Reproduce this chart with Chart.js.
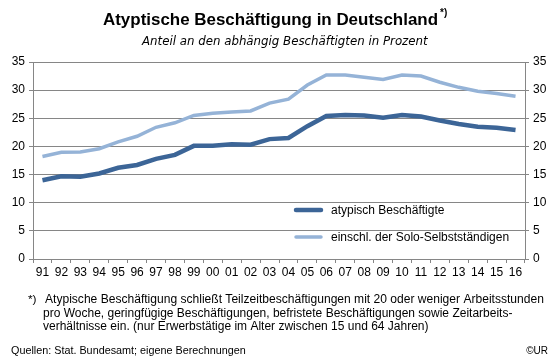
<!DOCTYPE html>
<html>
<head>
<meta charset="utf-8">
<script src="https://cdn.jsdelivr.net/npm/chart.js@4"></script>
<style>
  html, body { margin: 0; padding: 0; background: #fff; }
  #wrap { position: relative; width: 558px; height: 364px; }
</style>
</head>
<body>
<div id="wrap"><canvas id="chart" width="558" height="364"></canvas></div>
<script>
const years = ['91','92','93','94','95','96','97','98','99','00','01','02','03','04','05','06','07','08','09','10','11','12','13','14','15','16'];
const atypisch = [14.0,14.7,14.6,15.2,16.2,16.7,17.8,18.5,20.1,20.1,20.4,20.3,21.3,21.5,23.6,25.4,25.6,25.5,25.1,25.6,25.3,24.6,24.0,23.5,23.3,22.9];
const mitSolo = [18.2,18.95,19.0,19.6,20.8,21.8,23.4,24.2,25.5,25.9,26.1,26.3,27.7,28.4,30.9,32.7,32.7,32.3,31.9,32.7,32.5,31.4,30.5,29.8,29.4,28.9];
const seriesNames = ['atypisch Beschäftigte', 'einschl. der Solo-Selbstständigen'];
const yTicks = [0, 5, 10, 15, 20, 25, 30, 35];

const font = '"Liberation Sans", Arial, sans-serif';
const subFont = '"DejaVu Sans", Verdana, sans-serif';

// fit text between two x positions by scaling the font size
function fitText(ctx, text, style, family, x0, x1, y) {
  ctx.font = style + ' 100px ' + family;
  const size = 100 * (x1 - x0) / ctx.measureText(text).width;
  ctx.font = style + ' ' + size.toFixed(2) + 'px ' + family;
  ctx.textAlign = 'left';
  ctx.fillText(text, x0, y);
}

const textPlugin = {
  id: 'texts',
  afterDraw(chart) {
    const ctx = chart.ctx;
    ctx.save();
    ctx.fillStyle = '#000';
    ctx.textBaseline = 'middle';

    // title + superscript
    fitText(ctx, 'Atyptische Beschäftigung in Deutschland', 'bold', font, 103, 438, 20);
    ctx.font = 'bold 10px ' + font;
    ctx.fillText('*)', 440, 13);

    // subtitle
    fitText(ctx, 'Anteil an den abhängig Beschäftigten in Prozent', 'italic', subFont, 142, 428, 42);

    // footnote
    ctx.font = '11.8px ' + font;
    ctx.textAlign = 'left';
    ctx.fillText('*)', 28, 300);
    fitText(ctx, 'Atypische Beschäftigung schließt Teilzeitbeschäftigungen mit 20 oder weniger Arbeitsstunden', '', font, 45, 544, 300);
    ctx.font = '12px ' + font;
    ctx.fillText('pro Woche, geringfügige Beschäftigungen, befristete Beschäftigungen sowie Zeitarbeits-', 43, 313.5);
    ctx.fillText('verhältnisse ein. (nur Erwerbstätige im Alter zwischen 15 und 64 Jahren)', 43, 327);

    fitText(ctx, 'Quellen: Stat. Bundesamt; eigene Berechnungen', '', font, 11, 246, 351);
    ctx.textAlign = 'right';
    ctx.font = '10px ' + font;
    ctx.fillText('©UR', 548, 351);

    // legend inside plot
    const ds = chart.data.datasets;
    const rows = [210, 237];
    ctx.textAlign = 'left';
    ctx.font = '12px ' + font;
    ds.forEach((d, i) => {
      ctx.strokeStyle = d.borderColor;
      ctx.lineWidth = d.borderWidth;
      ctx.lineCap = 'round';
      ctx.beginPath();
      ctx.moveTo(296, rows[i]);
      ctx.lineTo(321, rows[i]);
      ctx.stroke();
      ctx.fillStyle = '#000';
      ctx.fillText(d.label, 331, rows[i] + 1);
    });
    ctx.restore();
  }
};

const yAxisBase = {
  min: 0,
  max: 35,
  afterBuildTicks(axis) { axis.ticks = yTicks.map(v => ({ value: v })); },
  border: { color: '#868686' },
  ticks: { color: '#000', font: { family: font, size: 12 }, padding: 4 }
};

new Chart(document.getElementById('chart'), {
  type: 'line',
  data: {
    labels: years,
    datasets: [
      { label: seriesNames[0], data: atypisch, borderColor: '#3C6597', borderWidth: 4.5, pointRadius: 0, tension: 0, yAxisID: 'y' },
      { label: seriesNames[1], data: mitSolo, borderColor: '#95B3D7', borderWidth: 3.5, pointRadius: 0, tension: 0, yAxisID: 'y' }
    ]
  },
  options: {
    responsive: false,
    animation: false,
    layout: { padding: { left: 0, right: 0, top: 62, bottom: 0 } },
    plugins: { legend: { display: false }, tooltip: { enabled: false } },
    scales: {
      x: {
        offset: true,
        grid: { offset: true, drawOnChartArea: false, color: '#868686', tickLength: 4 },
        border: { color: '#868686' },
        ticks: { color: '#000', font: { family: font, size: 12 }, maxRotation: 0, autoSkip: false, padding: 2 },
        afterFit(axis) { axis.height = 105; }
      },
      y: Object.assign({}, yAxisBase, {
        position: 'left',
        grid: { color: '#868686', tickLength: 4 },
        afterFit(axis) { axis.width = 33; }
      }),
      y2: Object.assign({}, yAxisBase, {
        position: 'right',
        grid: { drawOnChartArea: false, color: '#868686', tickLength: 4 },
        ticks: { color: '#000', font: { family: font, size: 12 }, padding: 4 },
        afterFit(axis) { axis.width = 33; }
      })
    }
  },
  plugins: [textPlugin]
});
</script>
</body>
</html>
